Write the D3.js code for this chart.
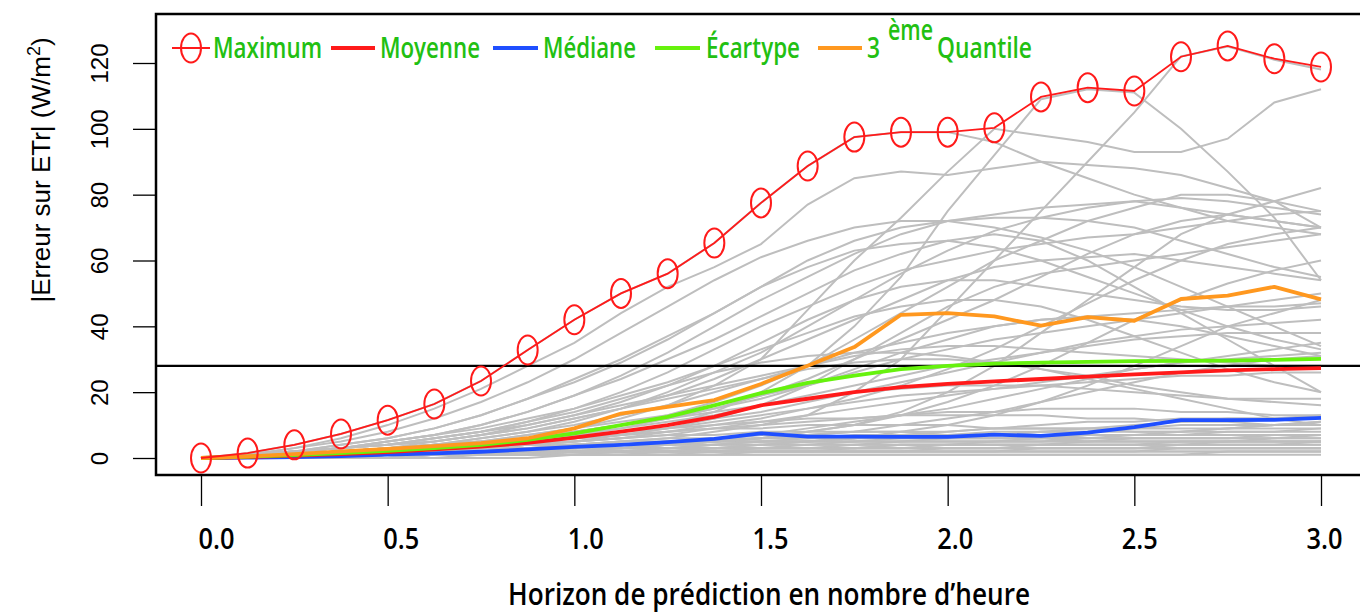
<!DOCTYPE html>
<html lang="fr">
<head>
<meta charset="utf-8">
<title>Erreur sur ETr</title>
<script src="https://cdn.jsdelivr.net/npm/d3@7"></script>
<style>
    body { margin: 0; background: #fff; }
    .narrow { font-family: "Open Sans", "DejaVu Sans Condensed", sans-serif; font-weight: 600; }
    .arial { font-family: "Liberation Sans", Arial, sans-serif; }
    .axis path { display: none; }
    .axis line { stroke: #000; stroke-width: 1.3px; }
</style>
</head>
<body>
<script>
// horizon (heures), pas de 7.5 min
var horizons = [0, 0.125, 0.25, 0.375, 0.5, 0.625, 0.75, 0.875, 1, 1.125, 1.25, 1.375, 1.5,
                1.625, 1.75, 1.875, 2, 2.125, 2.25, 2.375, 2.5, 2.625, 2.75, 2.875, 3];

var maximum  = [0, 1.5, 4, 7.3, 11.5, 16.4, 23.4, 32.8, 42, 50, 56, 65.3, 77.5, 88.7, 97.5, 99, 99, 100.3, 109.7, 112.5, 111.5, 121.9, 125.2, 121.3, 118.8];
var moyenne  = [0, 0.3, 0.7, 1.2, 1.8, 2.6, 3.5, 4.6, 6.2, 8, 10, 12.5, 16, 18, 20, 21.5, 22.5, 23.3, 24, 24.7, 25.4, 26, 26.6, 27, 27.3];
var mediane  = [0, 0.1, 0.3, 0.6, 1, 1.4, 1.9, 2.6, 3.4, 4, 4.8, 5.8, 7.5, 6.5, 6.5, 6.4, 6.4, 7.1, 6.7, 7.7, 9.4, 11.5, 11.5, 11.6, 12.2];
var ecartype = [0, 0.4, 0.9, 1.5, 2.2, 3, 4, 5.5, 7.5, 10, 12.5, 16, 19.7, 22.8, 25, 27, 28, 28.7, 29, 29.2, 29.4, 29.5, 29.6, 29.8, 30.1];
var quantile3 = [0, 0.5, 1.2, 2, 2.8, 3.6, 4.5, 6, 9, 13.5, 15.5, 17.6, 22.5, 28, 33.7, 43.5, 44, 43, 40.2, 42.8, 41.7, 48.3, 49.3, 52, 48.2];
var seuil = 28;

// erreurs de chaque prevision (courbes grises)
var erreursHautes = [
    [0,1,3,6,10,15,21,28,35,44,52,58,65,77,85,87,86,88,90,89,88,86,82,78,70],
    [0,0,1,2,3,4,5,7,9,12,16,22,30,45,60,73,87,100,98,96,93,93,97,108,112],
    [0,0,1,1,2,3,4,5,6,8,10,14,20,28,40,55,75,92,109,112,111,100,87,73,54],
    [0,0,1,1,1,2,2,3,4,5,6,8,10,13,20,30,45,60,75,90,105,122,125,121,118],
    [0,1.5,4,7.3,11.5,16.4,23.4,32.8,42,50,56,65.3,77.5,88.7,97.5,99,99,96,90,85,80,76,72,70,68]
];
var erreursMoyennes = [
    [0,0,0,1,1,1,2,2,3,3,4,5,6,8,10,14,20,28,38,48,58,68,74,78,82],
    [0,1,2,4,6,9,13,18,24,30,37,44,52,60,66,70,72,73,73,72,70,66,62,58,55],
    [0,1,2,3,5,7,10,14,19,25,32,40,48,55,62,68,72,74,76,77,78,76,74,72,70],
    [0,1,3,5,8,12,17,23,30,38,46,54,61,66,70,72,72,70,67,63,58,52,46,40,34],
    [0,0,1,2,3,4,6,8,11,15,20,26,32,40,48,56,63,69,73,76,78,79,78,76,74],
    [0,1,2,3,4,6,8,11,15,20,26,33,40,46,52,57,60,63,65,67,68,70,72,74,75],
    [0,0,1,1,2,3,4,6,8,10,13,17,22,28,36,44,52,60,66,72,76,80,80,78,75],
    [0,1,2,4,6,9,13,18,23,29,36,44,52,58,63,65,66,64,60,55,50,45,40,36,33],
    [0,0,0,1,1,2,3,4,5,7,9,12,16,22,30,38,46,52,56,58,60,62,64,66,68],
    [0,1,2,3,4,5,7,9,12,15,19,24,30,36,42,48,54,58,60,61,62,60,58,56,54],
    [0,0,1,1,2,3,4,5,7,9,12,15,19,24,30,36,42,48,55,62,68,72,74,72,70],
    [0,1,1,2,3,5,7,10,13,17,22,28,35,42,48,52,54,54,52,50,48,46,45,45,46],
    [0,1,2,3,5,7,10,14,19,24,30,36,43,50,57,62,66,68,66,60,52,44,36,28,20],
    [0,0,0,0,1,1,1,2,2,3,4,5,6,8,10,13,17,22,28,35,42,48,53,57,60],
    [0,0,1,1,2,2,3,4,5,6,8,10,12,15,18,22,27,33,40,47,54,60,65,68,70],
    [0,0,1,2,3,4,6,8,10,13,16,20,24,28,32,35,38,40,42,43,44,45,46,46,47],
    [0,1,1,2,3,4,5,7,9,11,13,16,19,22,26,30,33,36,38,40,42,44,46,48,50],
    [0,1,2,3,4,6,8,10,13,16,19,22,25,28,31,33,34,34,33,32,31,30,29,28,28],
    [0,0,0,0,0,1,1,1,2,2,3,3,4,5,6,8,10,13,17,22,28,34,40,44,48],
    [0,1,2,3,4,5,7,9,12,15,18,21,24,27,29,30,30,29,27,25,22,20,18,17,16],
    [0,0,1,1,2,3,4,5,6,8,10,12,14,17,20,23,26,29,32,35,37,39,40,41,42],
    [0,1,1,2,3,4,5,6,8,10,12,15,18,22,27,32,36,40,42,43,42,40,37,34,31],
    [0,0,1,1,2,2,3,4,5,6,7,9,11,13,15,17,19,21,23,25,27,29,30,31,32],
    [0,0,1,1,1,2,2,3,3,4,5,6,7,9,11,13,15,18,21,24,27,29,31,33,35],
    [0,1,1,2,3,4,5,6,8,10,12,14,16,18,20,21,22,22,22,21,20,19,18,18,18],
    [0,1,2,3,5,7,9,12,15,19,23,28,33,38,43,46,48,48,46,42,37,32,27,23,20],
    [0,0,0,1,1,1,2,2,3,3,4,5,6,7,8,10,12,14,17,20,23,26,28,30,31],
    [0,1,1,2,2,3,4,5,6,7,9,11,13,15,17,19,20,21,22,23,24,25,25,26,26],
    [0,0,1,1,2,3,4,5,7,9,11,13,16,19,22,25,28,30,32,34,36,37,38,38,38],
    [0,1,2,3,4,6,8,11,14,18,22,26,29,31,32,32,31,29,27,24,21,18,15,12,10]
];
var erreursBasses = [
    [0,0,0,0,0,1,1,1,1,1,1,2,2,2,2,2,2,2,3,3,3,3,3,3,3],
    [0,0,0,1,1,1,1,2,2,2,2,3,3,3,3,4,4,4,4,5,5,5,5,6,6],
    [0,0,1,1,1,2,2,2,3,3,3,4,4,4,5,5,5,5,5,6,6,6,6,6,6],
    [0,0,0,0,1,1,1,1,1,1,2,2,2,2,2,2,2,2,2,2,2,2,2,2,2],
    [0,0,0,0,0,0,1,1,1,1,1,1,1,1,1,1,1,1,1,1,1,1,2,2,2],
    [0,0,1,1,2,2,3,3,4,4,5,5,6,6,7,7,7,8,8,8,9,9,9,10,10],
    [0,0,1,1,1,2,2,3,3,4,4,5,5,6,6,7,7,7,8,8,8,8,9,9,9],
    [0,0,0,1,1,1,2,2,2,3,3,3,3,4,4,4,4,4,4,4,4,4,5,5,5],
    [0,0,0,0,1,1,1,1,2,2,2,2,3,3,3,3,3,3,3,3,3,4,4,4,4],
    [0,0,1,1,2,2,3,3,3,4,4,4,5,5,5,5,6,6,6,7,7,8,9,10,11],
    [0,1,1,2,2,3,3,4,4,5,5,6,6,6,6,6,6,6,6,5,5,5,5,5,5],
    [0,0,0,0,0,0,0,0,1,1,1,1,1,1,1,1,1,1,1,1,1,1,1,1,1],
    [0,0,1,1,2,3,4,5,6,7,8,9,9,10,10,10,10,9,9,9,8,8,8,8,8],
    [0,0,0,1,1,2,2,2,3,3,3,4,4,5,5,6,6,7,8,9,10,11,12,12,13],
    [0,0,0,0,1,1,1,2,2,2,2,2,3,3,3,3,3,3,4,4,4,4,4,4,4],
    [0,1,1,2,3,3,4,5,5,6,7,7,8,8,8,8,7,7,7,6,6,6,6,6,7],
    [0,0,0,1,1,1,1,1,2,2,2,2,2,2,3,3,3,3,3,3,3,3,3,3,3],
    [0,0,1,1,1,2,2,2,3,3,4,4,5,5,6,7,8,9,10,11,11,12,12,12,12],
    [0,0,0,0,0,1,1,1,1,2,2,2,2,2,2,2,3,3,3,3,3,3,3,3,3],
    [0,0,1,1,2,2,3,3,4,4,4,5,5,5,5,5,5,5,5,5,5,5,5,5,5],
    [0,1,1,2,3,4,5,6,7,8,9,10,11,12,12,13,13,13,13,12,12,11,11,10,10],
    [0,0,0,0,1,1,1,1,1,2,2,2,2,2,2,2,2,2,2,2,2,3,3,3,3],
    [0,0,1,1,1,1,2,2,2,2,3,3,3,3,3,4,4,4,4,4,4,4,4,4,5],
    [0,0,0,1,1,1,2,2,2,3,3,3,4,4,4,5,5,5,6,6,7,7,8,8,9],
    [0,0,1,1,2,2,3,4,4,5,6,6,7,7,8,8,8,9,9,9,9,10,10,10,11],
    [0,0,0,0,0,1,1,1,1,1,1,1,2,2,2,2,2,2,2,2,2,2,2,2,2],
    [0,1,1,2,2,3,3,4,4,4,5,5,5,5,6,6,6,6,6,7,7,7,7,7,7],
    [0,0,0,1,1,1,1,2,2,2,2,3,3,3,3,3,4,4,4,4,4,5,5,5,5],
    [0,0,1,1,2,3,4,5,6,7,8,9,10,11,12,13,14,14,15,15,15,14,14,13,13],
    [0,0,0,0,1,1,1,1,2,2,2,3,3,3,4,4,4,5,5,5,6,6,6,7,7]
];

var xTicks = [0, 0.5, 1, 1.5, 2, 2.5, 3];
var yTicks = [0, 20, 40, 60, 80, 100, 120];

var w = 1360, h = 613;
var box = {left: 156, top: 14, right: 1362, bottom: 475};

var svg = d3.select("body").append("svg")
    .attr("width", w)
    .attr("height", h);

var xScale = d3.scaleLinear().domain([0, 3]).range([201, 1321]);
var yScale = d3.scaleLinear().domain([0, 120]).range([458, 63]);

var line = d3.line()
    .x(function(d, i) { return xScale(horizons[i]); })
    .y(function(d) { return yScale(d); });

// courbes grises
var toutes = erreursBasses.concat(erreursMoyennes, erreursHautes);
svg.append("g").selectAll("path")
    .data(toutes)
    .enter().append("path")
    .attr("d", line)
    .attr("fill", "none")
    .attr("stroke", "#bebebe")
    .attr("stroke-width", 2);

// seuil horizontal
svg.append("line")
    .attr("x1", box.left).attr("x2", box.right)
    .attr("y1", yScale(seuil)).attr("y2", yScale(seuil))
    .attr("stroke", "#000")
    .attr("stroke-width", 2.2);

var stats = [
    {vals: mediane, color: "#1f4fff"},
    {vals: moyenne, color: "#ff1a1a"},
    {vals: ecartype, color: "#66f20d"},
    {vals: quantile3, color: "#ff981f"}
];
svg.append("g").selectAll("path")
    .data(stats)
    .enter().append("path")
    .attr("d", function(d) { return line(d.vals); })
    .attr("fill", "none")
    .attr("stroke", function(d) { return d.color; })
    .attr("stroke-width", 3.8)
    .attr("stroke-linejoin", "round");

// maximum avec cercles
svg.append("path")
    .attr("d", line(maximum))
    .attr("fill", "none")
    .attr("stroke", "#ff1a1a")
    .attr("stroke-width", 1.8);

svg.append("g").selectAll("ellipse")
    .data(maximum)
    .enter().append("ellipse")
    .attr("cx", function(d, i) { return xScale(horizons[i]); })
    .attr("cy", function(d) { return yScale(d); })
    .attr("rx", 10)
    .attr("ry", 14.5)
    .attr("fill", "none")
    .attr("stroke", "#ff1a1a")
    .attr("stroke-width", 2);

// cadre
svg.append("rect")
    .attr("x", box.left).attr("y", box.top)
    .attr("width", box.right - box.left).attr("height", box.bottom - box.top)
    .attr("fill", "none")
    .attr("stroke", "#000")
    .attr("stroke-width", 2.5);

// axe x
var xAxis = d3.axisBottom(xScale).tickValues(xTicks).tickSize(31)
    .tickFormat(d3.format(".1f"));
var gx = svg.append("g")
    .attr("class", "axis narrow")
    .attr("transform", "translate(0," + box.bottom + ")")
    .call(xAxis);
gx.attr("font-family", null).attr("font-size", null);
gx.selectAll("text")
    .attr("y", 74).attr("dy", 0)
    .attr("dx", function(d) { return 15 - 4 * d; })   // decalage du trace d'origine
    .attr("font-size", 28)
    .attr("textLength", 36)
    .attr("lengthAdjust", "spacingAndGlyphs")
    .attr("fill", "#000");

// axe y (libelles verticaux)
var yAxis = d3.axisLeft(yScale).tickValues(yTicks).tickSize(23);
var gy = svg.append("g")
    .attr("class", "axis arial")
    .attr("transform", "translate(" + box.left + ",0)")
    .call(yAxis);
gy.attr("font-family", null).attr("font-size", null);
gy.selectAll("text")
    .attr("x", 0).attr("dy", 0)
    .attr("text-anchor", "middle")
    .attr("transform", "translate(-48,0) rotate(-90)")
    .attr("font-size", 24)
    .attr("fill", "#000");

// titres
svg.append("text")
    .attr("class", "narrow")
    .attr("x", 508).attr("y", 605)
    .attr("font-size", 31)
    .attr("textLength", 522)
    .attr("lengthAdjust", "spacingAndGlyphs")
    .text("Horizon de prédiction en nombre d’heure");

var yt = svg.append("text")
    .attr("class", "arial")
    .attr("text-anchor", "middle")
    .attr("font-size", 26)
    .attr("transform", "translate(50,170) rotate(-90)");
yt.append("tspan").text("|Erreur sur ETr| (W/m");
yt.append("tspan").attr("font-size", 18).attr("dy", -10).text("2");
yt.append("tspan").attr("dy", 10).text(")");

// legende
var legY = 48, legBase = 58;
var leg = svg.append("g").attr("class", "narrow").attr("font-size", 28).attr("fill", "#22c012");
var legItems = [
    {x1: 172, x2: 210, color: "#ff1a1a", w: 1.8, label: "Maximum", tx: 213, tw: 109},
    {x1: 331, x2: 375, color: "#ff1a1a", w: 3.8, label: "Moyenne", tx: 380, tw: 100},
    {x1: 493, x2: 538, color: "#1f4fff", w: 3.8, label: "Médiane", tx: 543, tw: 93},
    {x1: 655, x2: 700, color: "#66f20d", w: 3.8, label: "Écartype", tx: 706, tw: 94},
    {x1: 818, x2: 862, color: "#ff981f", w: 3.8, label: null}
];
legItems.forEach(function(it) {
    leg.append("line")
        .attr("x1", it.x1).attr("x2", it.x2)
        .attr("y1", legY).attr("y2", legY)
        .attr("stroke", it.color).attr("stroke-width", it.w);
    if (it.label) {
        leg.append("text").attr("x", it.tx).attr("y", legBase)
            .attr("textLength", it.tw).attr("lengthAdjust", "spacingAndGlyphs")
            .text(it.label);
    } else {
        leg.append("text").attr("x", 867).attr("y", legBase)
            .attr("textLength", 13).attr("lengthAdjust", "spacingAndGlyphs").text("3");
        leg.append("text").attr("x", 888).attr("y", legBase - 18)
            .attr("textLength", 45).attr("lengthAdjust", "spacingAndGlyphs").text("ème");
        leg.append("text").attr("x", 937).attr("y", legBase)
            .attr("textLength", 95).attr("lengthAdjust", "spacingAndGlyphs").text("Quantile");
    }
});
leg.append("ellipse")
    .attr("cx", 191).attr("cy", legY)
    .attr("rx", 10).attr("ry", 14.5)
    .attr("fill", "none")
    .attr("stroke", "#ff1a1a").attr("stroke-width", 2);
</script>
</body>
</html>
